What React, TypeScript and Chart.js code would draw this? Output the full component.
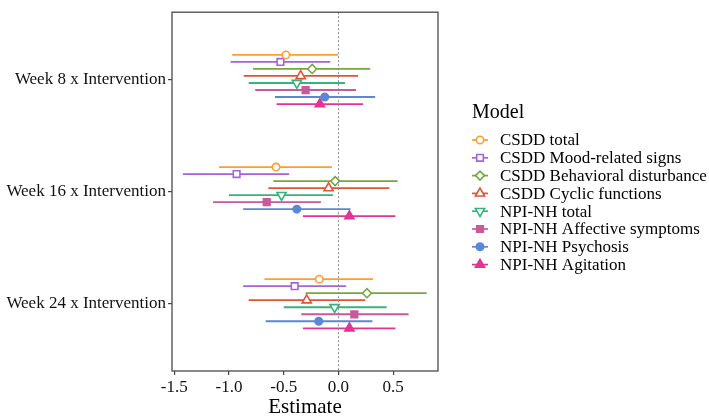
import React, { useEffect, useRef } from 'react';
import { Chart, registerables } from 'chart.js';

Chart.register(...registerables);

// ---------- data ----------
const CATEGORIES = ['Week 8 x Intervention', 'Week 16 x Intervention', 'Week 24 x Intervention'];
const SERIES = [
  'CSDD total',
  'CSDD Mood-related signs',
  'CSDD Behavioral disturbance',
  'CSDD Cyclic functions',
  'NPI-NH total',
  'NPI-NH Affective symptoms',
  'NPI-NH Psychosis',
  'NPI-NH Agitation',
];
const X_TICKS = [-1.5, -1.0, -0.5, 0.0, 0.5];

// estimate / lower / upper per series (order of SERIES), one array per week
const ESTIMATE_WEEK8 = [-0.48, -0.53, -0.24, -0.345, -0.38, -0.3, -0.125, -0.17];
const LOWER_WEEK8 = [-0.97, -0.985, -0.78, -0.865, -0.82, -0.76, -0.58, -0.565];
const UPPER_WEEK8 = [-0.005, -0.075, 0.29, 0.18, 0.06, 0.16, 0.335, 0.225];

const ESTIMATE_WEEK16 = [-0.57, -0.93, -0.03, -0.09, -0.52, -0.655, -0.38, 0.1];
const LOWER_WEEK16 = [-1.09, -1.42, -0.595, -0.64, -1.0, -1.145, -0.87, -0.325];
const UPPER_WEEK16 = [-0.06, -0.45, 0.54, 0.465, -0.05, -0.16, 0.11, 0.52];

const ESTIMATE_WEEK24 = [-0.175, -0.4, 0.26, -0.29, -0.035, 0.145, -0.18, 0.1];
const LOWER_WEEK24 = [-0.675, -0.87, -0.3, -0.82, -0.5, -0.34, -0.665, -0.325];
const UPPER_WEEK24 = [0.315, 0.07, 0.805, 0.245, 0.44, 0.64, 0.31, 0.52];

const ESTIMATES = [ESTIMATE_WEEK8, ESTIMATE_WEEK16, ESTIMATE_WEEK24];
const LOWERS = [LOWER_WEEK8, LOWER_WEEK16, LOWER_WEEK24];
const UPPERS = [UPPER_WEEK8, UPPER_WEEK16, UPPER_WEEK24];

// ---------- styles ----------
const COLORS = ['#FF9C33', '#A862D8', '#78A640', '#DD5535', '#38B27E', '#C85A98', '#5A88D8', '#E33496'];
type Shape = { style: string; rotation: number; filled: boolean; radius: number };
const SHAPES: Shape[] = [
  { style: 'circle', rotation: 0, filled: false, radius: 3.7 },
  { style: 'rect', rotation: 0, filled: false, radius: 4.7 },
  { style: 'rectRot', rotation: 0, filled: false, radius: 4.5 },
  { style: 'triangle', rotation: 0, filled: false, radius: 5.3 },
  { style: 'triangle', rotation: 180, filled: false, radius: 5.3 },
  { style: 'rect', rotation: 0, filled: true, radius: 4.7 },
  { style: 'circle', rotation: 0, filled: true, radius: 3.7 },
  { style: 'triangle', rotation: 0, filled: true, radius: 5.3 },
];
const FONT = "'Liberation Serif', 'Times New Roman', serif";
const DODGE = 0.0626;

function position(cat: number, s: number) {
  return cat + 1 + (s - (SERIES.length - 1) / 2) * DODGE;
}

function drawShape(ctx: CanvasRenderingContext2D, sh: Shape, x: number, y: number, color: string) {
  const r = sh.radius;
  ctx.beginPath();
  if (sh.style === 'circle') {
    ctx.arc(x, y, r, 0, Math.PI * 2);
  } else if (sh.style === 'rect') {
    const h = r * Math.SQRT1_2;
    ctx.rect(x - h, y - h, 2 * h, 2 * h);
  } else if (sh.style === 'rectRot') {
    ctx.moveTo(x - r, y);
    ctx.lineTo(x, y - r);
    ctx.lineTo(x + r, y);
    ctx.lineTo(x, y + r);
    ctx.closePath();
  } else {
    const sign = sh.rotation === 180 ? -1 : 1;
    const a = (r * Math.sqrt(3)) / 2;
    ctx.moveTo(x, y - sign * r);
    ctx.lineTo(x + a, y + (sign * r) / 2);
    ctx.lineTo(x - a, y + (sign * r) / 2);
    ctx.closePath();
  }
  ctx.fillStyle = sh.filled ? color : '#ffffff';
  ctx.fill();
  ctx.lineWidth = 1.6;
  ctx.strokeStyle = color;
  ctx.stroke();
}

const panelPlugin = {
  id: 'panelDecor',
  afterDatasetsDraw(chart: any) {
    const { ctx, chartArea: a, scales } = chart;
    const x0 = scales.x.getPixelForValue(0);
    ctx.save();
    ctx.strokeStyle = '#8a8a8a';
    ctx.lineWidth = 1;
    ctx.setLineDash([2, 2]);
    ctx.beginPath();
    ctx.moveTo(x0, a.top);
    ctx.lineTo(x0, a.bottom);
    ctx.stroke();
    ctx.restore();
  },
  afterDraw(chart: any) {
    const { ctx, chartArea: a } = chart;
    ctx.save();
    ctx.strokeStyle = '#4a4a4a';
    ctx.lineWidth = 1.3;
    ctx.strokeRect(a.left, a.top, a.right - a.left, a.bottom - a.top);

    // legend
    const titleX = 472;
    const keyX = 480;
    const textX = 500;
    const y0 = 140;
    const dy = 17.8;
    ctx.fillStyle = '#000000';
    ctx.textAlign = 'left';
    ctx.textBaseline = 'alphabetic';
    ctx.font = `20px ${FONT}`;
    ctx.fillText('Model', titleX, 118);
    ctx.font = `17px ${FONT}`;
    ctx.textBaseline = 'middle';
    SERIES.forEach((name, i) => {
      const y = y0 + i * dy;
      ctx.strokeStyle = COLORS[i];
      ctx.lineWidth = 1.7;
      ctx.beginPath();
      ctx.moveTo(keyX - 8, y);
      ctx.lineTo(keyX + 8, y);
      ctx.stroke();
      drawShape(ctx, SHAPES[i], keyX, y, COLORS[i]);
      ctx.fillStyle = '#000000';
      ctx.fillText(name, textX, y + 1);
    });
    ctx.restore();
  },
};

export default function App() {
  const ref = useRef<HTMLCanvasElement | null>(null);

  useEffect(() => {
    if (!ref.current) return;

    const pointSets = SERIES.map((name, s) => ({
      type: 'scatter' as const,
      label: name,
      data: CATEGORIES.map((_, k) => ({ x: ESTIMATES[k][s], y: position(k, s) })),
      pointStyle: SHAPES[s].style,
      rotation: SHAPES[s].rotation,
      pointRadius: SHAPES[s].radius,
      pointBorderWidth: 1.6,
      pointBorderColor: COLORS[s],
      pointBackgroundColor: SHAPES[s].filled ? COLORS[s] : '#ffffff',
      showLine: false,
    }));

    const barSets = SERIES.map((name, s) => ({
      type: 'line' as const,
      label: name + ' CI',
      data: CATEGORIES.flatMap((_, k) => [
        { x: LOWERS[k][s], y: position(k, s) },
        { x: UPPERS[k][s], y: position(k, s) },
        { x: null, y: null },
      ]),
      borderColor: COLORS[s],
      borderWidth: 1.8,
      pointRadius: 0,
      spanGaps: false,
      fill: false,
      tension: 0,
    }));

    const chart = new Chart(ref.current, {
      type: 'scatter',
      data: { datasets: [...pointSets, ...barSets] as any },
      options: {
        animation: false,
        responsive: false,
        devicePixelRatio: 1,
        layout: { padding: { left: 0, right: 271, top: 1, bottom: 0 } },
        plugins: { legend: { display: false }, tooltip: { enabled: false } },
        scales: {
          x: {
            type: 'linear',
            min: -1.52,
            max: 0.909,
            afterBuildTicks: (sc: any) => {
              sc.ticks = X_TICKS.map((v) => ({ value: v }));
            },
            afterFit: (sc: any) => {
              sc.height = 49;
            },
            ticks: {
              callback: (v: any) => Number(v).toFixed(1),
              font: { family: FONT, size: 17 },
              color: '#111111',
              padding: 2,
              maxRotation: 0,
              autoSkip: false,
            },
            grid: { display: true, drawOnChartArea: false, drawTicks: true, tickLength: 4, color: '#444444', lineWidth: 1.2 },
            border: { display: false },
            title: {
              display: true,
              text: 'Estimate',
              font: { family: FONT, size: 21 },
              color: '#000000',
              padding: { top: 0, bottom: 0 },
            },
          },
          y: {
            type: 'linear',
            reverse: true,
            min: 0.4,
            max: 3.6,
            afterBuildTicks: (sc: any) => {
              sc.ticks = CATEGORIES.map((_, k) => ({ value: k + 1 }));
            },
            afterFit: (sc: any) => {
              sc.width = 172;
            },
            ticks: {
              callback: (v: any) => CATEGORIES[Math.round(Number(v)) - 1],
              font: { family: FONT, size: 17 },
              color: '#111111',
              padding: 2,
              autoSkip: false,
            },
            grid: { display: true, drawOnChartArea: false, drawTicks: true, tickLength: 4, color: '#444444', lineWidth: 1.2 },
            border: { display: false },
          },
        },
      },
      plugins: [panelPlugin],
    } as any);

    return () => chart.destroy();
  }, []);

  return (
    <div style={{ position: 'absolute', left: 0, top: 0, width: 709, height: 420, background: '#ffffff' }}>
      <canvas ref={ref} width={709} height={420} />
    </div>
  );
}
